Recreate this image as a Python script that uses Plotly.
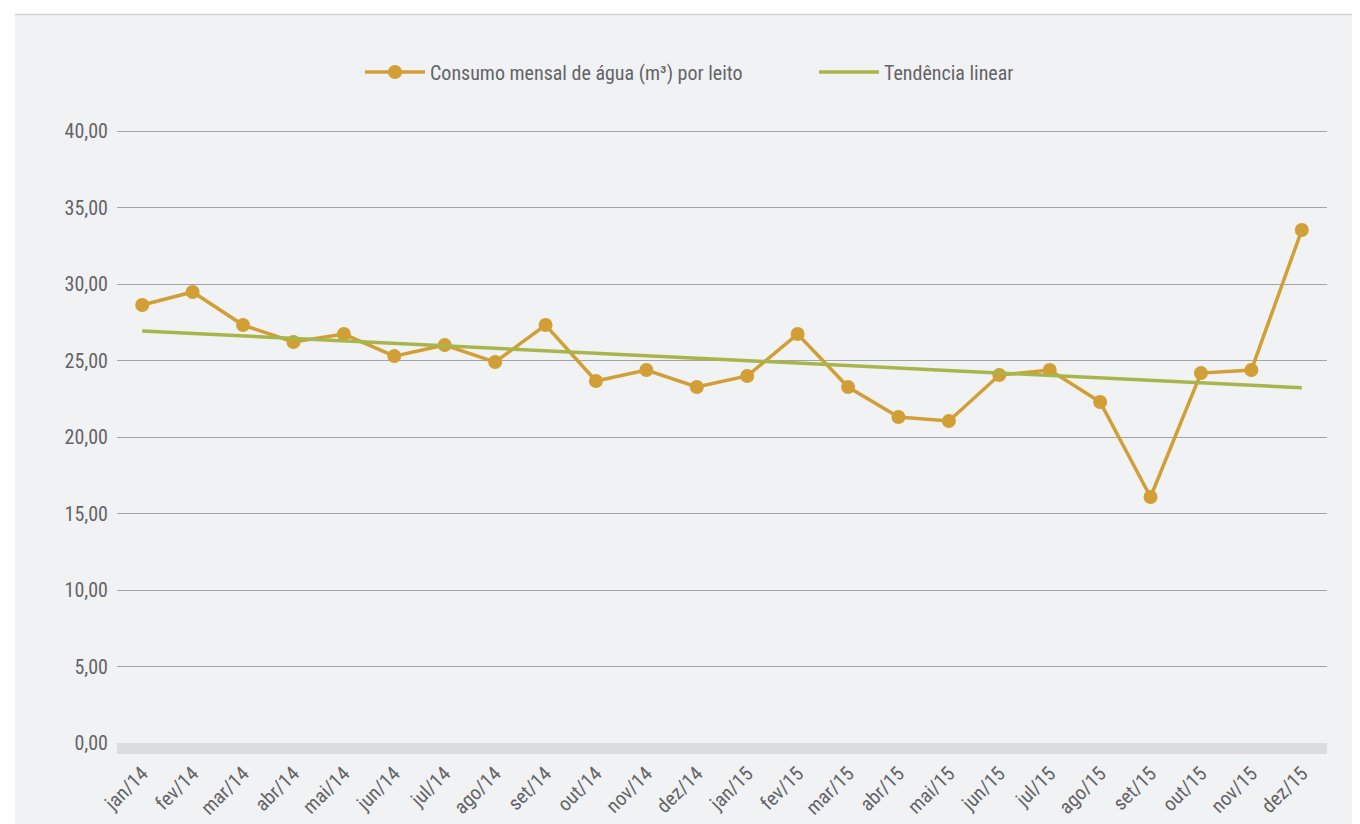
import plotly.graph_objects as go

months = ["jan/14", "fev/14", "mar/14", "abr/14", "mai/14", "jun/14", "jul/14", "ago/14",
          "set/14", "out/14", "nov/14", "dez/14", "jan/15", "fev/15", "mar/15", "abr/15",
          "mai/15", "jun/15", "jul/15", "ago/15", "set/15", "out/15", "nov/15", "dez/15"]
consumo = [28.63, 29.48, 27.32, 26.21, 26.73, 25.29, 26.01, 24.90,
           27.32, 23.66, 24.38, 23.27, 23.99, 26.73, 23.27, 21.31,
           21.05, 24.05, 24.38, 22.29, 16.08, 24.18, 24.38, 33.53]
trend_x = ["jan/14", "dez/15"]
trend_y = [26.93, 23.22]
y_ticks = [0, 5, 10, 15, 20, 25, 30, 35, 40]

FONT = "Liberation Sans Narrow, Roboto Condensed, Arial Narrow, sans-serif"
TXT = "#646466"

fig = go.Figure()
fig.add_trace(go.Scatter(
    x=months, y=consumo, mode="lines+markers",
    name="Consumo mensal de água (m³) por leito",
    line=dict(color="#d19f36", width=3.5),
    marker=dict(color="#d19f36", size=14),
))
fig.add_trace(go.Scatter(
    x=trend_x, y=trend_y, mode="lines",
    name="Tendência linear",
    line=dict(color="#a7b54b", width=3.5),
))

# page has an 8px body margin; figure coordinates are page - 8
OFF = 8
W, H = 1360 - OFF, 824 - OFF
L, R, T, B = 117 - OFF, 1360 - 1327, 128 - OFF, 824 - 743
pw, ph = W - L - R, H - T - B

def px_x(p):
    return (p - OFF - L) / pw

def px_y(p):
    return (H - B - (p - OFF)) / ph

fig.add_shape(type="rect", xref="paper", yref="paper",
              x0=px_x(15), x1=px_x(1370), y0=px_y(830), y1=px_y(14),
              fillcolor="#f1f2f4", line=dict(width=0), layer="below")
fig.add_shape(type="line", xref="paper", yref="paper",
              x0=px_x(15), x1=px_x(1370), y0=px_y(14.5), y1=px_y(14.5),
              line=dict(color="#d4d4d6", width=1.5), layer="below")

fig.update_layout(
    width=W, height=H,
    margin=dict(l=L, r=R, t=T, b=B, autoexpand=False),
    paper_bgcolor="white",
    plot_bgcolor="rgba(0,0,0,0)",
    separators=",.",
    font=dict(family=FONT, size=20, color=TXT),
    showlegend=True,
    legend=dict(orientation="h", x=px_x(360), y=px_y(72), xanchor="left", yanchor="middle",
                font=dict(family=FONT, size=20, color=TXT), entrywidth=379, itemwidth=60,
                bgcolor="rgba(0,0,0,0)"),
    xaxis=dict(type="category", categoryarray=months, range=[-0.5, 23.5], tickangle=-45,
               automargin=False,
               showgrid=False, zeroline=False, showline=True,
               linecolor="#dcdcde", linewidth=11, ticks="",
               tickfont=dict(family=FONT, size=20, color=TXT)),
    yaxis=dict(range=[0, 40.2], tickvals=y_ticks, tickformat=".2f",
               automargin=False,
               showgrid=True, gridcolor="#a3a3a5", gridwidth=1,
               zeroline=False, showline=False, ticks="",
               ticklabelstandoff=8,
               tickfont=dict(family=FONT, size=20, color=TXT)),
)

fig.write_html("out.html")
